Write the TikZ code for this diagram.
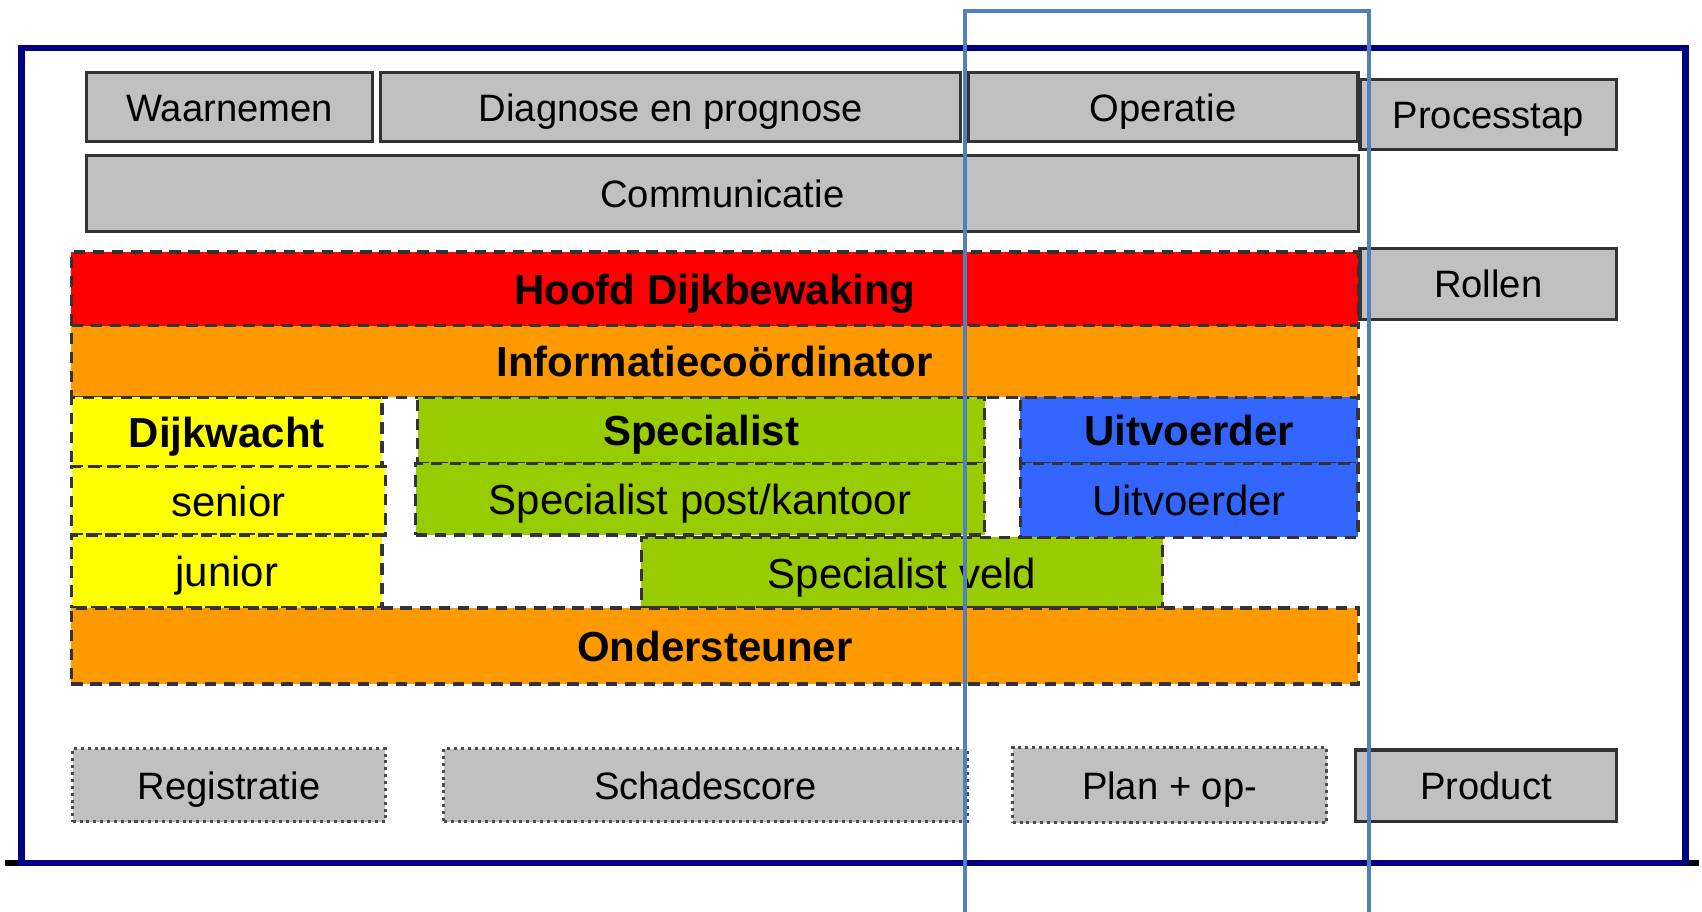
\documentclass[tikz,border=0pt]{standalone}
\usepackage{fontspec}
\setmainfont{Liberation Sans}
\definecolor{kader}{HTML}{000080}
\definecolor{lijn}{HTML}{4F81BD}
\definecolor{grijs}{HTML}{C0C0C0}
\definecolor{rood}{HTML}{FF0000}
\definecolor{oranje}{HTML}{FF9900}
\definecolor{geel}{HTML}{FFFF00}
\definecolor{groen}{HTML}{99CC00}
\definecolor{blauw}{HTML}{3366FF}
\tikzset{
  stapbox/.style={draw=black!80, line width=0.8pt, fill=grijs, inner sep=0pt,
    text height=7.4pt, text depth=0pt, font=\fontsize{10}{12}\selectfont},
  productbox/.style={draw=black!70, line width=0.8pt, densely dotted, fill=grijs, inner sep=0pt,
    text height=7.4pt, text depth=0pt, font=\fontsize{10}{12}\selectfont},
  rolbox/.style={draw=black!80, line width=0.9pt, dash pattern=on 3pt off 2pt, inner sep=0pt,
    text height=8.1pt, text depth=0pt, font=\fontsize{11}{13}\selectfont},
  vet/.style={font=\fontsize{11}{13}\selectfont\bfseries}
}
\begin{document}
\begin{tikzpicture}[x=0.01cm, y=-0.01cm]
            \useasboundingbox (0,0) rectangle (1568,840);
            % kader
            \draw [black, line width=1.7pt] (5,795) -- (1565,795) ;
            \draw [kader, line width=1.7pt] (20,44) rectangle (1553,795) ;
            % processtappen
            \node[stapbox, minimum width=2.63cm, minimum height=0.63cm] (waarnemen) at (211.5,98.5) {Waarnemen};
            \node[stapbox, minimum width=5.34cm, minimum height=0.63cm] (diagnose) at (618,98.5) {Diagnose en prognose};
            \node[stapbox, minimum width=3.59cm, minimum height=0.63cm] (operatie) at (1071.5,98.5) {Operatie};
            \node[stapbox, minimum width=2.36cm, minimum height=0.65cm] (processtap) at (1371,105.5) {Processtap};
            \node[stapbox, minimum width=11.71cm, minimum height=0.70cm] (communicatie) at (665.5,178) {Communicatie};
            % rollen
            \node[rolbox, vet, fill=rood, minimum width=11.85cm, minimum height=0.68cm] (hoofd) at (658.5,266) {Hoofd Dijkbewaking};
            \node[stapbox, minimum width=2.36cm, minimum height=0.65cm] (rollen) at (1371,261.5) {Rollen};
            \node[rolbox, vet, fill=oranje, minimum width=11.85cm, minimum height=0.66cm] (info) at (658.5,333) {Informatieco\"ordinator};
            \node[rolbox, vet, fill=geel, minimum width=2.86cm, minimum height=0.64cm] (dijkwacht) at (209,398) {Dijkwacht};
            \node[rolbox, fill=geel, minimum width=2.89cm, minimum height=0.63cm] (senior) at (210.5,461.5) {senior};
            \node[rolbox, fill=geel, minimum width=2.86cm, minimum height=0.67cm] (junior) at (209,526.5) {junior};
            \node[rolbox, vet, fill=groen, minimum width=5.22cm, minimum height=0.61cm] (specialist) at (646,396.5) {Specialist};
            \node[rolbox, fill=groen, minimum width=5.24cm, minimum height=0.66cm] (kantoor) at (645,460) {Specialist post/kantoor};
            \node[rolbox, fill=groen, minimum width=4.80cm, minimum height=0.65cm] (veld) at (831,527.5) {Specialist veld};
            \node[rolbox, vet, fill=blauw, minimum width=3.11cm, minimum height=0.61cm] (uitvoerder) at (1095.5,396.5) {Uitvoerder};
            \node[rolbox, fill=blauw, minimum width=3.11cm, minimum height=0.68cm] (uitvoerder2) at (1095.5,461) {Uitvoerder};
            \node[rolbox, vet, fill=oranje, minimum width=11.85cm, minimum height=0.70cm] (ondersteuner) at (658.5,595) {Ondersteuner};
            % producten
            \node[productbox, minimum width=2.88cm, minimum height=0.67cm] (registratie) at (211,723.5) {Registratie};
            \node[productbox, minimum width=4.82cm, minimum height=0.67cm] (schadescore) at (650,723.5) {Schadescore};
            \node[productbox, minimum width=2.89cm, minimum height=0.69cm] (plan) at (1077.5,723.5) {Plan + op-};
            \node[stapbox, minimum width=2.40cm, minimum height=0.66cm] (product) at (1369,724) {Product};
            % markering operatie
            \draw [lijn, line width=1.1pt] (889,840) -- (889,10) -- (1261,10) -- (1261,840) ;
\end{tikzpicture}
\end{document}
